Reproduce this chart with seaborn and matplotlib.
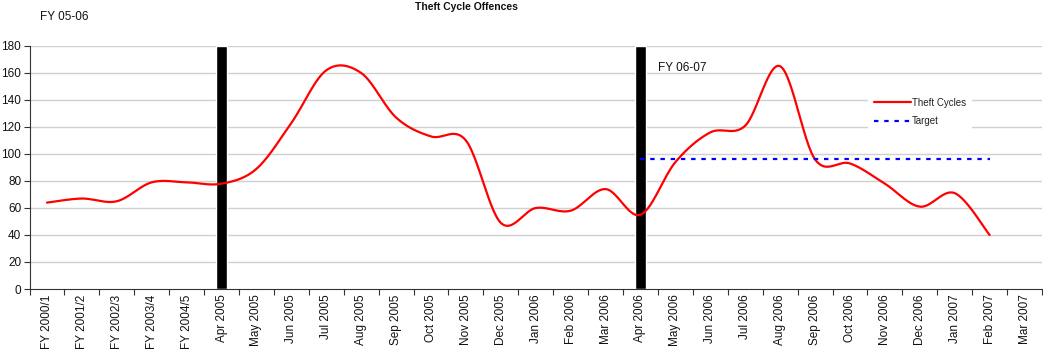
import numpy as np
import pandas as pd
import matplotlib
matplotlib.use("Agg")
import matplotlib.pyplot as plt
import seaborn as sns

# ---- data -------------------------------------------------------------
categories = [
    "FY 2000/1", "FY 2001/2", "FY 2002/3", "FY 2003/4", "FY 2004/5",
    "Apr 2005", "May 2005", "Jun 2005", "Jul 2005", "Aug 2005", "Sep 2005",
    "Oct 2005", "Nov 2005", "Dec 2005", "Jan 2006", "Feb 2006", "Mar 2006",
    "Apr 2006", "May 2006", "Jun 2006", "Jul 2006", "Aug 2006", "Sep 2006",
    "Oct 2006", "Nov 2006", "Dec 2006", "Jan 2007", "Feb 2007", "Mar 2007",
]
theft_cycles = [64, 67, 65, 79, 79, 78, 89, 123, 162, 160, 127, 113, 110,
                49, 60, 58, 74, 55, 94, 116, 121, 165, 96, 93, 78, 61, 71, 40]
target_start = "Apr 2006"
target_end = "Feb 2007"
target_value = 96
year_markers = ["Apr 2005", "Apr 2006"]
year_marker_height = 180
y_ticks = list(range(0, 181, 20))


def smooth_curve(y, steps=30):
    """Cubic Bezier smoothing through every point (Catmull-Rom style)."""
    y = np.asarray(y, dtype=float)
    x = np.arange(len(y), dtype=float)
    pts = np.column_stack([x, y])
    padded = np.vstack([pts[0], pts, pts[-1]])
    xs, ys = [], []
    t = np.linspace(0, 1, steps)[:, None]
    for i in range(len(pts) - 1):
        p0, p3 = padded[i + 1], padded[i + 2]
        p1 = p0 + (padded[i + 2] - padded[i]) / 6.0
        p2 = p3 - (padded[i + 3] - padded[i + 1]) / 6.0
        seg = ((1 - t) ** 3) * p0 + 3 * ((1 - t) ** 2) * t * p1 \
            + 3 * (1 - t) * t ** 2 * p2 + t ** 3 * p3
        xs.append(seg[:, 0])
        ys.append(seg[:, 1])
    return np.concatenate(xs), np.concatenate(ys)


# ---- styling ----------------------------------------------------------
sns.set_theme(style="white")
plt.rcParams["font.family"] = ["Liberation Sans", "DejaVu Sans"]

fig = plt.figure(figsize=(10.43, 3.58), dpi=100)
ax = fig.add_axes([29.5 / 1043, 1 - 289 / 358, (1042 - 29.5) / 1043, 243 / 358])

# horizontal gridlines
for v in y_ticks[1:]:
    ax.axhline(v, color="#d0d0d0", lw=1.0, zorder=0)

# year separators as black columns
bar_df = pd.DataFrame({"pos": [categories.index(c) for c in year_markers],
                       "val": [year_marker_height] * len(year_markers)})
ax.bar(bar_df["pos"], bar_df["val"], width=0.34, color="black", zorder=2)

# smoothed theft-cycle series
sx, sy = smooth_curve(theft_cycles)
smooth_df = pd.DataFrame({"x": sx, "y": sy})
sns.lineplot(data=smooth_df, x="x", y="y", ax=ax, color="#ff0000", lw=1.6,
             label="Theft Cycles", zorder=3, sort=False)

# target line
i0, i1 = categories.index(target_start), categories.index(target_end)
target_df = pd.DataFrame({"x": np.arange(i0, i1 + 1),
                          "y": [target_value] * (i1 - i0 + 1)})
sns.lineplot(data=target_df, x="x", y="y", ax=ax, color="#0000ff", lw=1.6,
             linestyle=(0, (2.0, 2.6)), label="Target", zorder=3)

# axes
ax.set_xlim(-0.5, len(categories) - 0.5)
ax.set_ylim(0, 180)
ax.set_yticks(y_ticks)
ax.set_yticklabels([str(v) for v in y_ticks], fontsize=8.5, color="#111111")
ax.set_xticks(range(len(categories)))
ax.set_xticklabels(categories, rotation=90, fontsize=8.5, color="#111111")
ax.set_xticks(np.arange(-0.5, len(categories), 1.0), minor=True)
ax.tick_params(axis="x", which="major", length=0, pad=4)
ax.tick_params(axis="x", which="minor", length=4, width=0.8, color="#333333",
               direction="out", bottom=True)
ax.tick_params(axis="y", which="major", length=4, width=0.8, color="#333333",
               direction="out", left=True, pad=2)
ax.set_xlabel("")
ax.set_ylabel("")
for side in ("top", "right"):
    ax.spines[side].set_visible(False)
for side in ("left", "bottom"):
    ax.spines[side].set_color("#333333")
    ax.spines[side].set_linewidth(0.8)

# annotations
ax.text(17.5, 164, "FY 06-07", fontsize=8.5, va="center", ha="left",
        color="#111111")
fig.text(40 / 1043, 1 - 17 / 358, "FY 05-06", fontsize=8.5, va="center",
         ha="left", color="#111111")
fig.text(466 / 1043, 1 - 7 / 358, "Theft Cycle Offences", fontsize=7.5,
         fontweight="bold", va="center", ha="center", color="#111111")

leg = ax.legend(loc="center", bbox_to_anchor=(920 / 1043, 1 - 112 / 358),
                bbox_transform=fig.transFigure, frameon=True, fancybox=False,
                fontsize=7, handlelength=3.8, handletextpad=0.15,
                labelspacing=0.9, borderpad=0.6, edgecolor="none",
                facecolor="white", framealpha=1.0)
for t in leg.get_texts():
    t.set_color("#222222")

fig.savefig("out.png", dpi=100)
